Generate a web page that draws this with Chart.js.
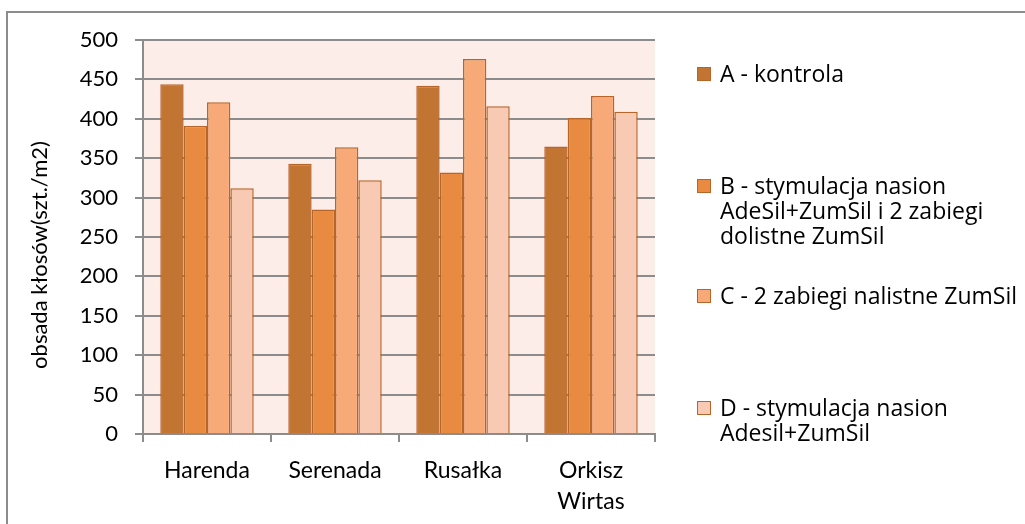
<!DOCTYPE html>
<html>
<head>
<meta charset="utf-8">
<script src="https://cdn.jsdelivr.net/npm/chart.js@4.4.0/dist/chart.umd.min.js"></script>
<style>
    html, body { margin: 0; padding: 0; background: #ffffff; }
    #wrap { position: relative; width: 1025px; height: 524px; overflow: hidden; }
    #frame { position: absolute; left: 6px; top: 11px; width: 1100px; height: 600px; border: 2px solid #8c8c8c; box-sizing: border-box; }
    canvas { position: absolute; left: 0; top: 0; }
    #legend { position: absolute; left: 697px; top: 0; font-family: 'Open Sans', 'Lato', sans-serif; font-size: 23px; color: #000; }
    .item { position: absolute; left: 0; white-space: nowrap; line-height: 25px; }
    .box { position: absolute; left: 0; top: 6px; width: 14px; height: 14px; box-sizing: border-box; border: 1px solid #b8652a; }
    .txt { position: absolute; left: 23px; top: 0; }
</style>
</head>
<body>
<div id="wrap">
    <div id="frame"></div>
    <canvas id="chart" width="1025" height="524"></canvas>
    <div id="legend"></div>
</div>
<script>
    // Dane z wykresu
    const categories = [['Harenda'], ['Serenada'], ['Rusałka'], ['Orkisz', 'Wirtas']];
    const seriesNames = [
        ['A - kontrola'],
        ['B - stymulacja nasion', 'AdeSil+ZumSil i 2 zabiegi', 'dolistne ZumSil'],
        ['C - 2 zabiegi nalistne ZumSil'],
        ['D - stymulacja nasion', 'Adesil+ZumSil']
    ];
    const valuesA = [444, 343, 442, 365];
    const valuesB = [391, 285, 332, 401];
    const valuesC = [421, 364, 476, 429];
    const valuesD = [312, 322, 416, 409];
    const yTicks = [0, 50, 100, 150, 200, 250, 300, 350, 400, 450, 500];
    const yTitle = 'obsada kłosów(szt./m2)';

    const colors = ['#c27432', '#e88b41', '#f7a977', '#f8c9b3'];
    const colorBorder = '#b8652a';
    const colorGrid = '#8c8c8c';
    const legendTops = [61, 173, 283, 395];

    const allValues = [valuesA, valuesB, valuesC, valuesD];

    // Legenda w HTML
    const legend = document.getElementById('legend');
    seriesNames.forEach(function (lines, i) {
        const item = document.createElement('div');
        item.className = 'item';
        item.style.top = legendTops[i] + 'px';
        const box = document.createElement('div');
        box.className = 'box';
        box.style.background = colors[i];
        const txt = document.createElement('div');
        txt.className = 'txt';
        txt.innerHTML = lines.join('<br>');
        item.appendChild(box);
        item.appendChild(txt);
        legend.appendChild(item);
    });

    const fontFamily = "'Lato', sans-serif";

    // tło obszaru wykresu + tytuł osi Y
    const plotBg = {
        id: 'plotBg',
        beforeDraw: function (chart) {
            const a = chart.chartArea;
            const ctx = chart.ctx;
            ctx.save();
            ctx.fillStyle = '#fcede8';
            ctx.fillRect(a.left, a.top, a.right - a.left, a.bottom - a.top);
            ctx.restore();
        },
        afterDraw: function (chart) {
            const ctx = chart.ctx;
            ctx.save();
            ctx.translate(40, 255);
            ctx.rotate(-Math.PI / 2);
            ctx.font = '22px ' + fontFamily;
            ctx.fillStyle = '#000';
            ctx.textAlign = 'center';
            ctx.textBaseline = 'middle';
            ctx.fillText(yTitle, 0, 0);
            ctx.restore();
        }
    };

    new Chart(document.getElementById('chart'), {
        type: 'bar',
        data: {
            labels: categories,
            datasets: allValues.map(function (vals, i) {
                return {
                    label: seriesNames[i].join(' '),
                    data: vals,
                    backgroundColor: colors[i],
                    borderColor: colorBorder,
                    borderWidth: 1.5,
                    barPercentage: 1,
                    categoryPercentage: 0.73
                };
            })
        },
        options: {
            responsive: false,
            animation: false,
            layout: { padding: { left: 0, top: 40, right: 370, bottom: 0 } },
            plugins: {
                legend: { display: false },
                tooltip: { enabled: false }
            },
            scales: {
                y: {
                    min: 0,
                    max: 500,
                    afterFit: function (s) { s.width = 143; },
                    afterBuildTicks: function (s) { s.ticks = yTicks.map(function (v) { return { value: v }; }); },
                    grid: { color: colorGrid, lineWidth: 2, tickLength: 8 },
                    border: { color: colorGrid, width: 2 },
                    ticks: { font: { family: fontFamily, size: 22 }, color: '#000', padding: 17 }
                },
                x: {
                    afterFit: function (s) { s.height = 90; },
                    grid: { drawOnChartArea: false, color: colorGrid, lineWidth: 2, tickLength: 8, offset: true },
                    border: { color: colorGrid, width: 2 },
                    ticks: { font: { family: fontFamily, size: 23, lineHeight: 1.35 }, color: '#000', padding: 13 }
                }
            }
        },
        plugins: [plotBg]
    });
</script>
</body>
</html>
